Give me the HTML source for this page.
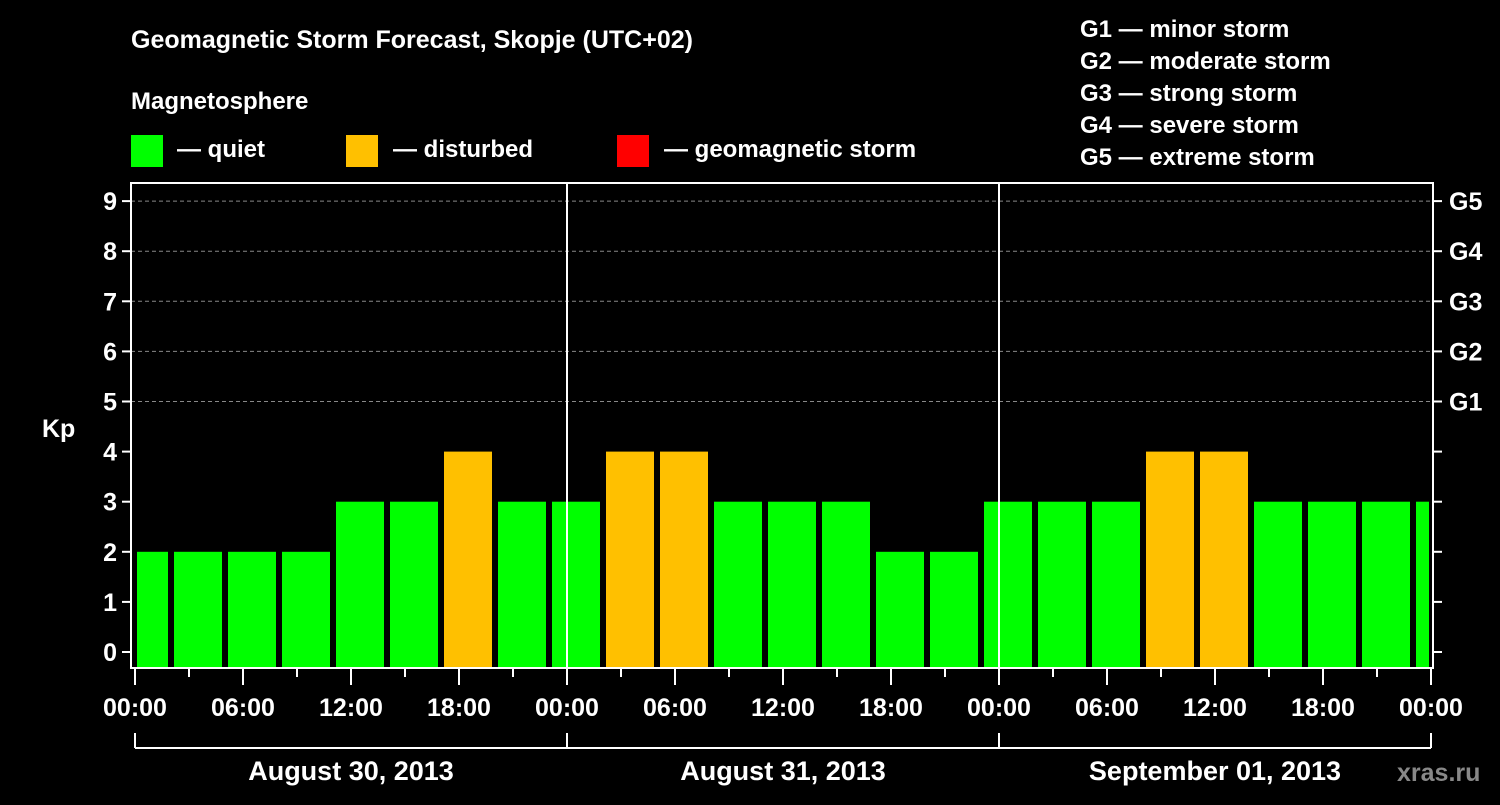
<!DOCTYPE html>
<html><head><meta charset="utf-8"><style>
body{margin:0;background:#000;width:1500px;height:800px;overflow:hidden}
svg text{font-family:"Liberation Sans",sans-serif;font-weight:bold;fill:#fff}
</style></head><body>
<svg id="chart" width="1500" height="800" xmlns="http://www.w3.org/2000/svg">
<text x="131" y="48" font-size="25">Geomagnetic Storm Forecast, Skopje (UTC+02)</text>
<text x="131" y="109" font-size="24">Magnetosphere</text>
<g><rect x="131" y="135" width="32" height="32" fill="#00ff00"/><text x="177" y="157" font-size="24">— quiet</text></g>
<g><rect x="346" y="135" width="32" height="32" fill="#ffc000"/><text x="393" y="157" font-size="24">— disturbed</text></g>
<g><rect x="617" y="135" width="32" height="32" fill="#ff0000"/><text x="664" y="157" font-size="24">— geomagnetic storm</text></g>
<g font-size="24">
<text x="1080" y="37">G1 — minor storm</text><text x="1080" y="69">G2 — moderate storm</text><text x="1080" y="101">G3 — strong storm</text><text x="1080" y="133">G4 — severe storm</text><text x="1080" y="165">G5 — extreme storm</text></g>
<text x="42" y="437" font-size="25">Kp</text>
<g id="plot"></g>
<text x="1397" y="781" font-size="25" style="fill:#888">xras.ru</text>
</svg>
<script>
const kpValues=[2,2,2,2,3,3,4,3,3,4,4,3,3,3,2,2,3,3,3,4,4,3,3,3,3];
const yTicks=[0,1,2,3,4,5,6,7,8,9];
const gLabels=["G1","G2","G3","G4","G5"];
const xTickLabels=["00:00","06:00","12:00","18:00","00:00","06:00","12:00","18:00","00:00","06:00","12:00","18:00","00:00"];
const dayLabels=["August 30, 2013","August 31, 2013","September 01, 2013"];
const NS="http://www.w3.org/2000/svg";
const g=document.getElementById('plot');
const L=131,R=1433,T=183,B=668,X0=135,PXH=18;
const y=v=>652-v*50.1;
const x=h=>X0+h*PXH;
function mk(t,a){const e=document.createElementNS(NS,t);for(const k in a)e.setAttribute(k,a[k]);g.appendChild(e);return e;}
// grid
for(let v=5;v<=9;v++){const e=mk('line',{x1:L,x2:R,y1:y(v),y2:y(v),stroke:'#888','stroke-dasharray':'4,3'});

}
// bars
kpValues.forEach((v,i)=>{const s=-1+3*i;let x1=x(s)+3,x2=x(s+3)-3;x1=Math.max(x1,X0+2);x2=Math.min(x2,R-4);
const c=v>=5?'#ff0000':(v>=4?'#ffc000':'#00ff00');
const r=mk('rect',{x:x1,y:y(v),width:x2-x1,height:B-y(v),fill:c});

});
// day separators
[24,48].forEach(h=>{const e=mk('line',{x1:x(h),x2:x(h),y1:T,y2:B,stroke:'#fff','stroke-width':2});

});
// frame
const f=mk('rect',{x:L,y:T,width:R-L,height:B-T,fill:'none',stroke:'#fff','stroke-width':2});


// y ticks
yTicks.forEach(v=>{mk('line',{x1:L-9,x2:L,y1:y(v),y2:y(v),stroke:'#fff','stroke-width':2});
mk('line',{x1:R,x2:R+9,y1:y(v),y2:y(v),stroke:'#fff','stroke-width':2});
const t=mk('text',{x:L-14,y:y(v)+9,'font-size':25,'text-anchor':'end'});t.textContent=v;

});
gLabels.forEach((s,i)=>{const t=mk('text',{x:1449,y:y(5+i)+9,'font-size':25});t.textContent=s;

});
// x ticks
for(let h=0;h<=72;h+=3){const maj=h%6==0;mk('line',{x1:x(h),x2:x(h),y1:B,y2:B+(maj?17:9),stroke:'#fff','stroke-width':2});}
xTickLabels.forEach((s,i)=>{const t=mk('text',{x:x(i*6),y:716,'font-size':25,'text-anchor':'middle'});t.textContent=s;

});
// day bracket
mk('line',{x1:x(0),x2:x(72),y1:748,y2:748,stroke:'#fff','stroke-width':2});
[0,24,48,72].forEach(h=>mk('line',{x1:x(h),x2:x(h),y1:733,y2:748,stroke:'#fff','stroke-width':2}));
dayLabels.forEach((s,i)=>{const t=mk('text',{x:x(i*24+12),y:780,'font-size':27,'text-anchor':'middle'});t.textContent=s;

});
</script>
</body></html>
